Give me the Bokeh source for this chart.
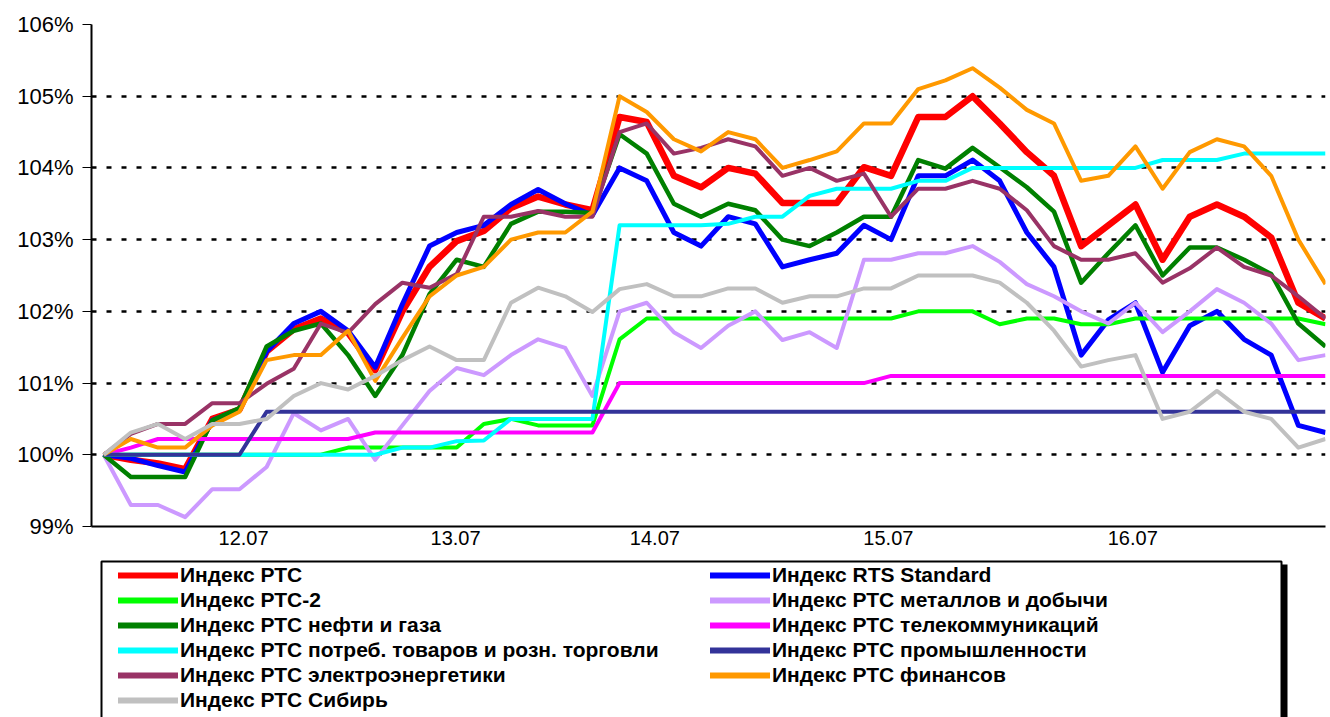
from bokeh.plotting import figure
from bokeh.layouts import column
from bokeh.models import (FixedTicker, PrintfTickFormatter, Legend, LegendItem, Range1d)
from bokeh.embed import file_html
from bokeh.resources import INLINE

# ---------------- data ----------------
rts = [100, 99.93, 99.88, 99.8, 100.5, 100.63, 101.44, 101.75, 101.9, 101.7, 101.18, 102.0,
       102.62, 102.98, 103.12, 103.44, 103.6, 103.49, 103.41, 104.71, 104.64, 103.89, 103.73,
       104.0, 103.92, 103.51, 103.51, 103.51, 104.01, 103.89, 104.71, 104.71, 105.0, 104.62,
       104.22, 103.89, 102.91, 103.2, 103.49, 102.72, 103.32, 103.49, 103.32, 103.03, 102.12, 101.9]
rts_standard = [100, 99.95, 99.85, 99.76, 100.48, 100.63, 101.44, 101.83, 102.0, 101.73, 101.22, 102.1,
                102.91, 103.1, 103.2, 103.49, 103.7, 103.5, 103.34, 104.0, 103.82, 103.1, 102.91,
                103.32, 103.22, 102.62, 102.72, 102.81, 103.2, 103.0, 103.89, 103.89, 104.11, 103.82,
                103.1, 102.62, 101.39, 101.88, 102.12, 101.15, 101.8, 102.0, 101.61, 101.39, 100.41, 100.31]
rts2 = [100, 100, 100, 100, 100, 100, 100, 100, 100, 100.1, 100.1, 100.1,
        100.1, 100.1, 100.43, 100.5, 100.41, 100.41, 100.41, 101.61, 101.9, 101.9, 101.9,
        101.9, 101.9, 101.9, 101.9, 101.9, 101.9, 101.9, 102.0, 102.0, 102.0, 101.82,
        101.9, 101.9, 101.82, 101.82, 101.9, 101.9, 101.9, 101.9, 101.9, 101.9, 101.9, 101.82]
metals = [100, 99.3, 99.3, 99.13, 99.52, 99.52, 99.83, 100.58, 100.34, 100.5, 99.93, 100.41,
          100.89, 101.21, 101.11, 101.39, 101.61, 101.49, 100.82, 102.0, 102.12, 101.71, 101.49,
          101.8, 102.0, 101.6, 101.71, 101.49, 102.72, 102.72, 102.81, 102.81, 102.91, 102.69,
          102.38, 102.21, 102.0, 101.83, 102.12, 101.71, 102.0, 102.31, 102.12, 101.83, 101.32, 101.39]
oil_gas = [100, 99.69, 99.69, 99.69, 100.48, 100.65, 101.51, 101.73, 101.83, 101.39, 100.82, 101.39,
           102.24, 102.72, 102.62, 103.22, 103.39, 103.39, 103.37, 104.47, 104.2, 103.5, 103.32,
           103.5, 103.41, 103.0, 102.91, 103.1, 103.32, 103.32, 104.11, 103.99, 104.28, 104.01,
           103.73, 103.39, 102.4, 102.81, 103.2, 102.5, 102.89, 102.89, 102.72, 102.52, 101.83, 101.51]
telecom = [100, 100.1, 100.22, 100.22, 100.22, 100.22, 100.22, 100.22, 100.22, 100.22, 100.31, 100.31,
           100.31, 100.31, 100.31, 100.31, 100.31, 100.31, 100.31, 101.0, 101.0, 101.0, 101.0,
           101.0, 101.0, 101.0, 101.0, 101.0, 101.0, 101.1, 101.1, 101.1, 101.1, 101.1,
           101.1, 101.1, 101.1, 101.1, 101.1, 101.1, 101.1, 101.1, 101.1, 101.1, 101.1, 101.1]
consumer = [100, 100, 100, 100, 100, 100, 100, 100, 100, 100, 100, 100.1,
            100.1, 100.19, 100.2, 100.5, 100.5, 100.5, 100.5, 103.2, 103.2, 103.2, 103.2,
            103.22, 103.32, 103.32, 103.61, 103.71, 103.71, 103.71, 103.82, 103.82, 104.0, 104.0,
            104.0, 104.0, 104.0, 104.0, 104.0, 104.11, 104.11, 104.11, 104.2, 104.2, 104.2, 104.2]
industry = [100, 100, 100, 100, 100, 100, 100.6, 100.6, 100.6, 100.6, 100.6, 100.6,
            100.6, 100.6, 100.6, 100.6, 100.6, 100.6, 100.6, 100.6, 100.6, 100.6, 100.6,
            100.6, 100.6, 100.6, 100.6, 100.6, 100.6, 100.6, 100.6, 100.6, 100.6, 100.6,
            100.6, 100.6, 100.6, 100.6, 100.6, 100.6, 100.6, 100.6, 100.6, 100.6, 100.6, 100.6]
power = [100, 100.29, 100.43, 100.43, 100.72, 100.72, 100.99, 101.2, 101.83, 101.7, 102.1, 102.4,
         102.33, 102.52, 103.32, 103.32, 103.4, 103.32, 103.32, 104.5, 104.62, 104.2, 104.28,
         104.4, 104.3, 103.89, 104.0, 103.82, 103.92, 103.32, 103.71, 103.71, 103.82, 103.71,
         103.41, 102.91, 102.72, 102.72, 102.81, 102.4, 102.6, 102.89, 102.62, 102.5, 102.21, 101.9]
finance = [100, 100.22, 100.1, 100.1, 100.41, 100.6, 101.32, 101.39, 101.39, 101.73, 101.03, 101.63,
           102.21, 102.5, 102.62, 103.0, 103.1, 103.1, 103.39, 105.0, 104.78, 104.4, 104.23,
           104.5, 104.4, 104.0, 104.11, 104.23, 104.62, 104.62, 105.1, 105.22, 105.39, 105.12,
           104.81, 104.62, 103.82, 103.89, 104.3, 103.71, 104.22, 104.4, 104.3, 103.89, 103.0, 102.38]
siberia = [100, 100.31, 100.43, 100.22, 100.43, 100.43, 100.5, 100.82, 101.0, 100.91, 101.1, 101.32,
           101.51, 101.32, 101.32, 102.12, 102.33, 102.21, 101.99, 102.31, 102.38, 102.21, 102.21,
           102.32, 102.32, 102.12, 102.21, 102.21, 102.32, 102.32, 102.5, 102.5, 102.5, 102.4,
           102.12, 101.73, 101.23, 101.32, 101.39, 100.5, 100.6, 100.89, 100.6, 100.5, 100.1, 100.22]

series_names = ["Индекс РТС", "Индекс RTS Standard", "Индекс РТС-2", "Индекс РТС металлов и добычи",
                "Индекс РТС нефти и газа", "Индекс РТС телекоммуникаций",
                "Индекс РТС потреб. товаров и розн. торговли", "Индекс РТС промышленности",
                "Индекс РТС электроэнергетики", "Индекс РТС финансов", "Индекс РТС Сибирь"]
series_values = [rts, rts_standard, rts2, metals, oil_gas, telecom, consumer, industry, power, finance, siberia]
series_colors = ["#FF0000", "#0000FF", "#00FF00", "#CC99FF", "#008000", "#FF00FF",
                 "#00FFFF", "#333399", "#993366", "#FF9900", "#C0C0C0"]
series_widths = [6.5, 5, 4, 4, 4.5, 4, 4, 4, 4, 4, 4]

x_tick_labels = ["12.07", "13.07", "14.07", "15.07", "16.07"]
x_tick_positions = [5.15, 12.96, 20.3, 28.9, 37.9]
y_ticks = [99, 100, 101, 102, 103, 104, 105, 106]

x = list(range(len(rts)))

# ---------------- main chart ----------------
p = figure(width=1330, height=555, output_backend="svg", toolbar_location=None,
           x_range=Range1d(-0.45, 45), y_range=Range1d(99, 106),
           min_border_left=91, min_border_right=5, min_border_top=24, min_border_bottom=29)
p.outline_line_color = None
p.background_fill_color = "white"
p.border_fill_color = "white"

for name, vals, col, w in zip(series_names, series_values, series_colors, series_widths):
    p.line(x, vals, line_color=col, line_width=w, line_join="round")

p.xaxis.ticker = FixedTicker(ticks=x_tick_positions)
p.xaxis.major_label_overrides = {pos: lab for pos, lab in zip(x_tick_positions, x_tick_labels)}
p.xaxis.major_tick_line_color = None
p.xaxis.major_tick_out = 0
p.xaxis.major_tick_in = 0
p.xaxis.minor_tick_line_color = None
p.xaxis.axis_line_width = 2
p.xaxis.axis_line_color = "black"
p.xaxis.major_label_text_font = "Liberation Sans"
p.xaxis.major_label_text_font_size = "20px"
p.xaxis.major_label_text_color = "black"
p.xaxis.major_label_standoff = 4

p.yaxis.ticker = FixedTicker(ticks=y_ticks)
p.yaxis.formatter = PrintfTickFormatter(format="%d%%")
p.yaxis.major_tick_in = 0
p.yaxis.major_tick_out = 9
p.yaxis.major_tick_line_width = 1
p.yaxis.minor_tick_line_color = None
p.yaxis.axis_line_width = 2
p.yaxis.axis_line_color = "black"
p.yaxis.major_label_text_font = "Liberation Sans"
p.yaxis.major_label_text_font_size = "22px"
p.yaxis.major_label_text_color = "black"
p.yaxis.major_label_standoff = 9

p.xgrid.grid_line_color = None
p.ygrid.grid_line_color = "black"
p.ygrid.grid_line_width = 2.5
p.ygrid.grid_line_dash = "5 10"

# ---------------- legend panel (pixel coordinates) ----------------
LH = 162
FL, FR = 91, 1325   # frame edges in page pixels (same as main chart)
lg = figure(width=1330, height=LH, output_backend="svg", toolbar_location=None,
            x_range=Range1d(FL, FR), y_range=Range1d(0, LH),
            x_axis_location=None, y_axis_location=None,
            min_border_left=FL, min_border_right=1330 - FR, min_border_top=0, min_border_bottom=0)
lg.outline_line_color = None
lg.xgrid.grid_line_color = None
lg.ygrid.grid_line_color = None
lg.background_fill_color = "white"
lg.border_fill_color = "white"

# legend frame with shadow (decoration)
lg.quad(left=[1281], right=[1287], bottom=[-5], top=[LH - 9], fill_color="black", line_color=None)
lg.quad(left=[101], right=[1281], bottom=[-5], top=[LH - 6], fill_color="white",
        line_color="black", line_width=2)

nan = float("nan")
leg_renderers = {}
for name, col in zip(series_names, series_colors):
    leg_renderers[name] = lg.line(x=[nan, nan], y=[nan, nan], line_color=col, line_width=6,
                                  line_cap="round")

col1 = ["Индекс РТС", "Индекс РТС-2", "Индекс РТС нефти и газа",
        "Индекс РТС потреб. товаров и розн. торговли", "Индекс РТС электроэнергетики",
        "Индекс РТС Сибирь"]
col2 = ["Индекс RTS Standard", "Индекс РТС металлов и добычи", "Индекс РТС телекоммуникаций",
        "Индекс РТС промышленности", "Индекс РТС финансов"]

def make_legend(names, loc):
    return Legend(items=[LegendItem(label=n, renderers=[leg_renderers[n]]) for n in names],
                  location=loc, orientation="vertical",
                  label_text_font="Liberation Sans", label_text_font_style="bold",
                  label_text_font_size="21px", label_text_color="black",
                  glyph_width=60, glyph_height=24, label_height=24, label_standoff=2,
                  spacing=1, padding=0, margin=0,
                  border_line_color=None, background_fill_alpha=0)

lg.add_layout(make_legend(col1, (118 - FL, 5)))
lg.add_layout(make_legend(col2, (710 - FL, 30)))

layout = column(p, lg, spacing=0)
open("out.html", "w").write(file_html(layout, INLINE))
